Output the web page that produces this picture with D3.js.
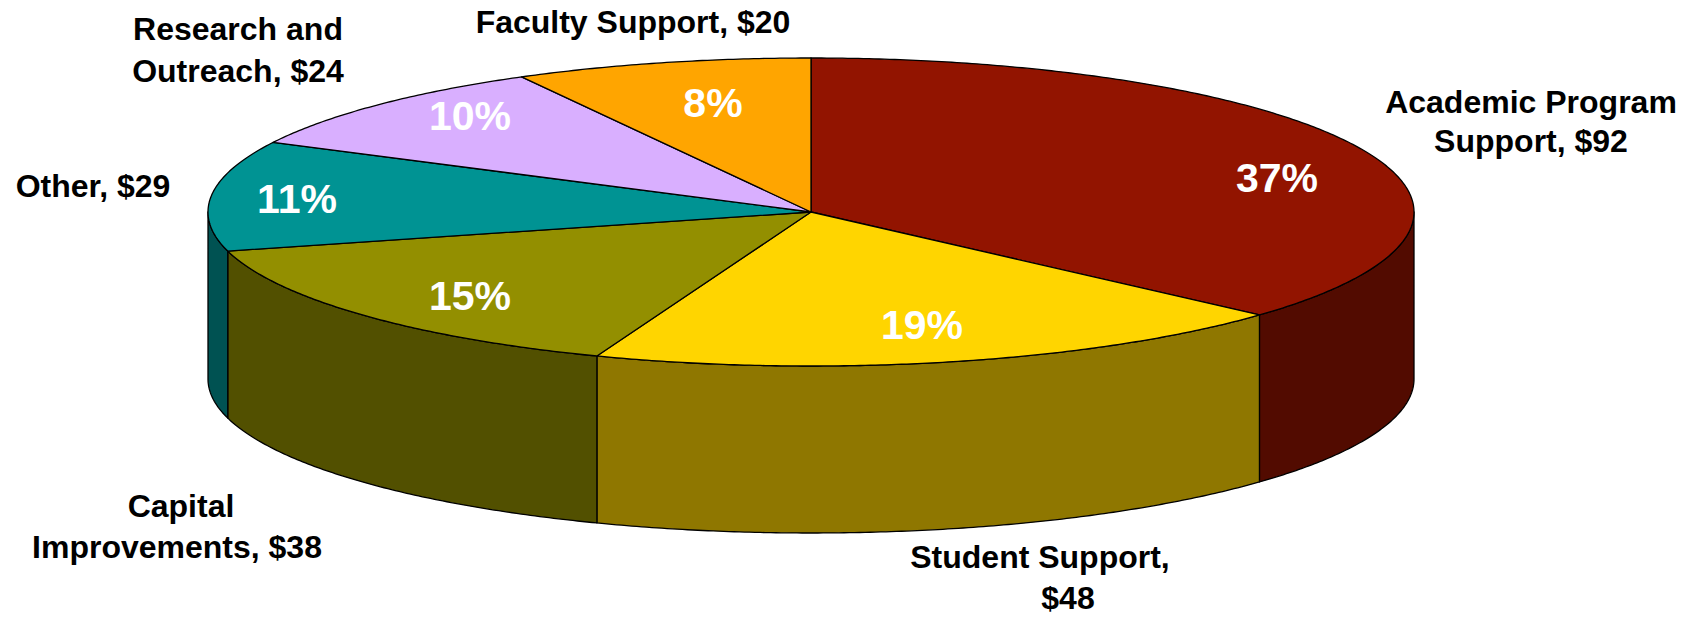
<!DOCTYPE html>
<html>
<head>
<meta charset="utf-8">
<script src="https://cdn.jsdelivr.net/npm/d3@7"></script>
<style>
  html, body { margin: 0; padding: 0; background: #ffffff; }
  svg { display: block; }
  text { font-family: "Liberation Sans", Arial, Helvetica, sans-serif; font-weight: bold; }
</style>
</head>
<body>
<svg id="chart" width="1692" height="618"></svg>
<script>
// ---- data: budget allocation ($ millions), clockwise from 12 o'clock ----
const categories = ["Academic Program Support", "Student Support", "Capital Improvements",
                    "Other", "Research and Outreach", "Faculty Support"];
const values = [92, 48, 38, 29, 24, 20];
const percentLabels = ["37%", "19%", "15%", "11%", "10%", "8%"];
const calloutLabels = [
  ["Academic Program", "Support, $92"],
  ["Student Support,", "$48"],
  ["Capital", "Improvements, $38"],
  ["Other, $29"],
  ["Research and", "Outreach, $24"],
  ["Faculty Support, $20"]
];
const topColors = ["#921400", "#FFD500", "#938F00", "#009393", "#D9AFFF", "#FFA500"];

// ---- layout ----
const W = 1692, H = 618;
const cx = 811, cy = 212;      // centre of the pie's top face
const rx = 603, ry = 154;      // ellipse radii of the tilted disc
const depth = 167;             // thickness of the disc
const sideShade = 0.56;        // wall colour = top colour darkened

// label anchors (text centre x, baseline y)
const calloutPos = [
  [[1531, 113], [1531, 152]],
  [[1040, 568], [1068, 609]],
  [[181, 517], [177, 558]],
  [[93, 197]],
  [[238, 40], [238, 82]],
  [[633, 33]]
];
const percentPos = [[1277, 192], [922, 339], [470, 310], [297, 213], [470, 130], [713, 117]];

const svg = d3.select("#chart");

const arcs = d3.pie().sort(null).value(d => d)(values);

// angle (clockwise from top) -> point on the tilted ellipse, z = drop below the top face
const proj = (a, z = 0) => [cx + rx * Math.sin(a), cy - ry * Math.cos(a) + z];

function arcPoints(a0, a1, z) {
  const n = Math.max(2, Math.ceil(Math.abs(a1 - a0) / (Math.PI / 360)));
  return d3.range(n + 1).map(i => proj(a0 + (a1 - a0) * i / n, z));
}

const line = d3.line().curve(d3.curveLinear);

const sideColor = c => {
  const r = d3.rgb(c);
  return d3.rgb(r.r * sideShade, r.g * sideShade, r.b * sideShade).formatHex();
};

// outer walls: only the front half of the disc (angles PI/2 .. 3PI/2) is visible
const walls = svg.append("g").attr("class", "walls");
arcs.forEach((d, i) => {
  const a = Math.max(d.startAngle, Math.PI / 2);
  const b = Math.min(d.endAngle, 3 * Math.PI / 2);
  if (a >= b) return;
  const pts = arcPoints(a, b, 0).concat(arcPoints(b, a, depth));
  walls.append("path")
    .attr("d", line(pts) + "Z")
    .attr("fill", sideColor(topColors[i]))
    .attr("stroke", "#000")
    .attr("stroke-width", 1.3)
    .attr("stroke-linejoin", "round");
});

// top faces
const tops = svg.append("g").attr("class", "tops");
arcs.forEach((d, i) => {
  const pts = [[cx, cy]].concat(arcPoints(d.startAngle, d.endAngle, 0));
  tops.append("path")
    .attr("d", line(pts) + "Z")
    .attr("fill", topColors[i])
    .attr("stroke", "#000")
    .attr("stroke-width", 1.3)
    .attr("stroke-linejoin", "round");
});

// percentage labels on the slices
svg.append("g").attr("class", "pct")
  .selectAll("text")
  .data(arcs)
  .join("text")
  .attr("x", (d, i) => percentPos[i][0])
  .attr("y", (d, i) => percentPos[i][1])
  .attr("text-anchor", "middle")
  .attr("font-size", 41)
  .attr("fill", "#ffffff")
  .text((d, i) => percentLabels[i]);

// category callouts
const callouts = svg.append("g").attr("class", "callouts");
calloutLabels.forEach((lines, i) => {
  const t = callouts.append("text")
    .attr("font-size", 32)
    .attr("fill", "#000")
    .attr("text-anchor", "middle");
  lines.forEach((s, j) => {
    t.append("tspan")
      .attr("x", calloutPos[i][j][0])
      .attr("y", calloutPos[i][j][1])
      .text(s);
  });
});
</script>
</body>
</html>
